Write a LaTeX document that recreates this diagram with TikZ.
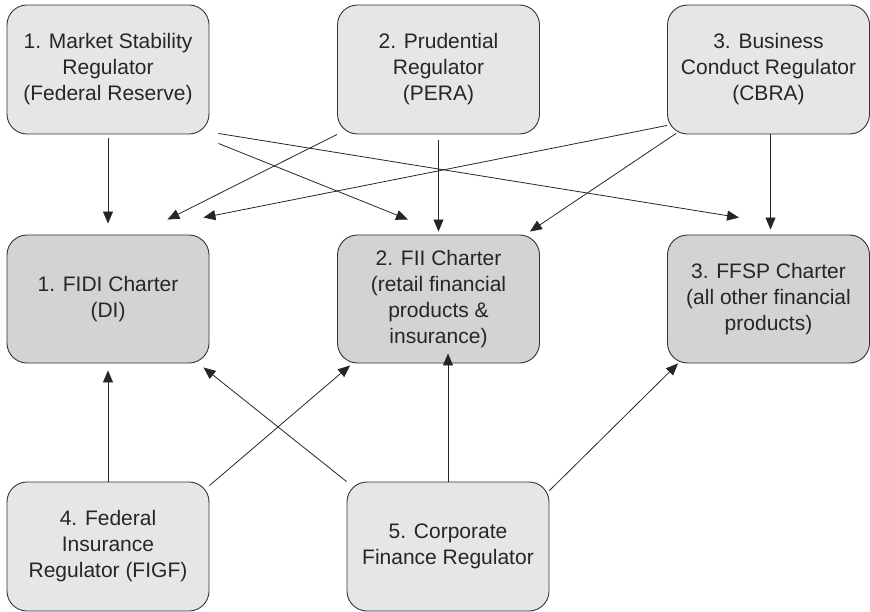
\documentclass[tikz,border=0pt]{standalone}
\usepackage{fontspec}
\setmainfont{Liberation Sans}
\usetikzlibrary{arrows.meta,calc}
\definecolor{lightbox}{HTML}{E6E6E8}
\definecolor{darkbox}{HTML}{D3D3D5}
\definecolor{edge}{HTML}{333333}
\begin{document}
\begin{tikzpicture}[x=1pt,y=-1pt,
  box/.style={draw=edge,line width=0.9pt,rounded corners=20pt,inner sep=0pt,
    align=center,text=black!85,font=\fontsize{21}{26}\selectfont,
    minimum width=202pt,minimum height=129pt},
  reg/.style={box,fill=lightbox},
  charter/.style={box,fill=darkbox,minimum height=128pt},
  arr/.style={draw=black!85,line width=0.8pt,-{Triangle[length=12pt,width=10pt]}}]
\useasboundingbox (0,0) rectangle (870,612);
\node[reg] (m1) at (108,69.5) {1. Market Stability\\Regulator\\(Federal Reserve)};
\node[reg] (m2) at (438.5,69.5) {2. Prudential\\Regulator\\(PERA)};
\node[reg] (m3) at (768.5,69.5) {3. Business\\Conduct Regulator\\(CBRA)};
\node[charter] (fidi) at (108,299) {1. FIDI Charter\\(DI)};
\node[charter] (fii) at (438.5,299) {2. FII Charter\\(retail financial\\products \&\\insurance)};
\node[charter] (ffsp) at (768.5,299) {3. FFSP Charter\\(all other financial\\products)};
\node[reg] (figf) at (108,546.5) {4. Federal\\Insurance\\Regulator (FIGF)};
\node[reg] (corp) at (448,546.5) {5. Corporate\\Finance Regulator};
% top connectors
\draw[arr] ([shift={(0,4)}]m1.south) -- ([shift={(0,-11)}]fidi.north);
\draw[arr] ([shift={(9,-1)}]m1.south east) -- ([shift={(72,-17)}]ffsp.north west);
\draw[arr] ([shift={(9,9)}]m1.south east) -- ([shift={(71,-15)}]fii.north west);
\draw[arr] (m2.south west) -- ([shift={(-42,-15)}]fidi.north east);
\draw[arr] ([shift={(0,6)}]m2.south) -- ([shift={(0,-3)}]fii.north);
\draw[arr] ([shift={(0,-9)}]m3.south west) -- ([shift={(-6,-17)}]fidi.north east);
\draw[arr] ([shift={(9,-1)}]m3.south west) -- ([shift={(-10,-3)}]fii.north east);
\draw[arr] ([shift={(2,0)}]m3.south) -- ([shift={(2,-5)}]ffsp.north);
% bottom connectors
\draw[arr] (figf.north) -- ([shift={(0,7)}]fidi.south);
\draw[arr] ([shift={(0,4)}]figf.north east) -- ([shift={(13,2)}]fii.south west);
\draw[arr] (corp.north west) -- ([shift={(-6,4)}]fidi.south east);
\draw[arr] (corp.north) -- ([yshift=10pt]corp.north |- fii.south);
\draw[arr] ([shift={(0,9)}]corp.north east) -- ([shift={(11,0)}]ffsp.south west);
\end{tikzpicture}
\end{document}
